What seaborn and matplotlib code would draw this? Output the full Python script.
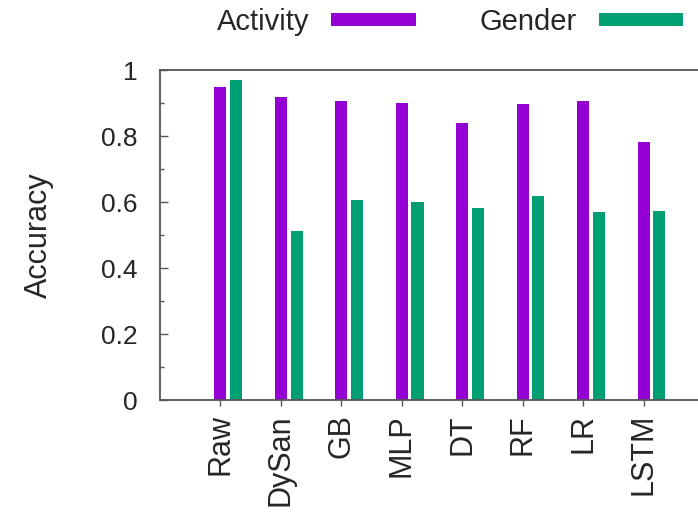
import numpy as np
import pandas as pd
import matplotlib
matplotlib.use("Agg")
import matplotlib.pyplot as plt
import seaborn as sns

# Data
methods = ["Raw", "DySan", "GB", "MLP", "DT", "RF", "LR", "LSTM"]
activity = [0.947, 0.917, 0.905, 0.899, 0.838, 0.896, 0.905, 0.782]
gender = [0.970, 0.513, 0.606, 0.600, 0.582, 0.618, 0.570, 0.573]
tasks = ["Activity", "Gender"]
colors = {"Activity": "#9400D3", "Gender": "#009E73"}

# tidy (long) frame for seaborn
df = pd.DataFrame({
    "method": methods * 2,
    "accuracy": activity + gender,
    "task": ["Activity"] * len(methods) + ["Gender"] * len(methods),
})

sns.set_style("ticks")
plt.rcParams["font.family"] = ["Liberation Sans", "DejaVu Sans"]

fig = plt.figure(figsize=(6.98, 5.2), dpi=100)
ax = fig.add_axes([160 / 698, 120 / 520, 544 / 698, 330 / 520])

pair_width = 0.52
sns.barplot(data=df, x="method", y="accuracy", hue="task", hue_order=tasks,
            palette=colors, width=pair_width, gap=0.23, dodge=True,
            saturation=1, errorbar=None, ax=ax, edgecolor="none")

# ticks sit under the first bar of each pair, like the original
shift = pair_width / 4
pos = np.arange(len(methods)) - shift
ax.set_xticks(pos, methods, rotation=90, fontsize=22)
ax.set_xlim(-1 - shift, 8 - shift)

ax.set_ylim(0, 1)
ax.set_yticks([0, 0.2, 0.4, 0.6, 0.8, 1.0], ["0", "0.2", "0.4", "0.6", "0.8", "1"], fontsize=19)
ax.set_yticks(np.arange(0.1, 1.0, 0.2), minor=True)
ax.tick_params(axis="y", which="major", direction="in", length=6, width=1,
               color="#555555", pad=16)
ax.tick_params(axis="y", which="minor", direction="in", length=3, width=1, color="#555555")
ax.tick_params(axis="x", direction="out", length=4, width=1, color="#555555", pad=6)

ax.set_xlabel("")
ax.set_ylabel("Accuracy", fontsize=22, labelpad=34)

for side in ["left", "top", "bottom"]:
    ax.spines[side].set_color("#555555")
    ax.spines[side].set_linewidth(1.3)
ax.spines["right"].set_visible(False)

handles, labels = ax.get_legend_handles_labels()
ax.legend(handles, labels, loc="center", bbox_to_anchor=(450 / 698, 1 - 22 / 520),
          bbox_transform=fig.transFigure, ncol=2, frameon=False, markerfirst=False,
          fontsize=21, handlelength=2.9, handleheight=0.35, handletextpad=0.75,
          columnspacing=2.2)

fig.savefig("out.png", dpi=100)
